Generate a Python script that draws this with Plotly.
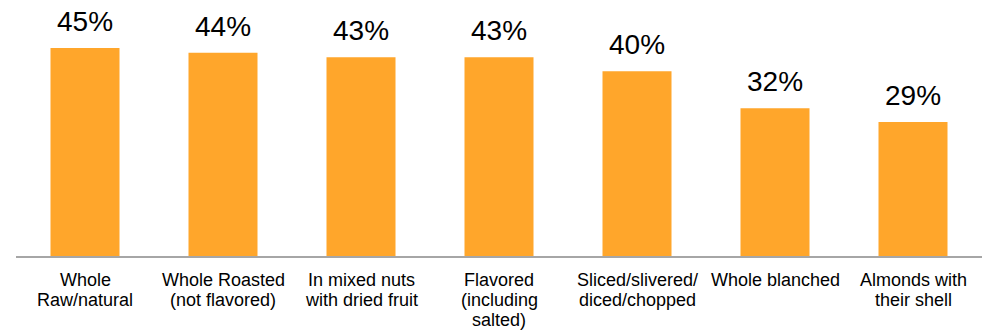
import plotly.graph_objects as go

categories = ["Whole<br>Raw/natural", "Whole Roasted<br>(not flavored)", "In mixed nuts<br>with dried fruit",
              "Flavored<br>(including<br>salted)", "Sliced/slivered/<br>diced/chopped", "Whole blanched",
              "Almonds with<br>their shell"]
values = [45, 44, 43, 43, 40, 32, 29]
value_labels = ["45%", "44%", "43%", "43%", "40%", "32%", "29%"]

BAR = "#FFA62B"
FONT = "Liberation Sans, Arial, sans-serif"

fig = go.Figure(go.Bar(x=list(range(len(categories))), y=values, marker=dict(color=BAR, line=dict(width=0)),
                       hoverinfo="skip"))

ann = []
for i, (v, t) in enumerate(zip(values, value_labels)):
    ann.append(dict(x=i, y=v, xref="x", yref="y", text=t, showarrow=False, yanchor="bottom",
                    yshift=9, font=dict(size=28, color="#000000", family=FONT)))
for i, c in enumerate(categories):
    for j, line in enumerate(c.split("<br>")):
        ann.append(dict(x=i, y=0, xref="x", yref="paper", text=line, showarrow=False, yanchor="top",
                        yshift=-12 - 20 * j, font=dict(size=18, color="#000000", family=FONT)))

fig.update_layout(
    width=983, height=330,
    margin=dict(l=16, r=1, t=0, b=74),
    paper_bgcolor="white", plot_bgcolor="white",
    bargap=0.5,
    showlegend=False,
    annotations=ann,
    xaxis=dict(range=[-0.5, 6.5], showticklabels=False, ticks="", showgrid=False, zeroline=False,
               showline=True, linecolor="#A6A6A6", linewidth=2),
    yaxis=dict(range=[0, 55.4], visible=False, showgrid=False, zeroline=False),
)
fig.write_html("out.html")
